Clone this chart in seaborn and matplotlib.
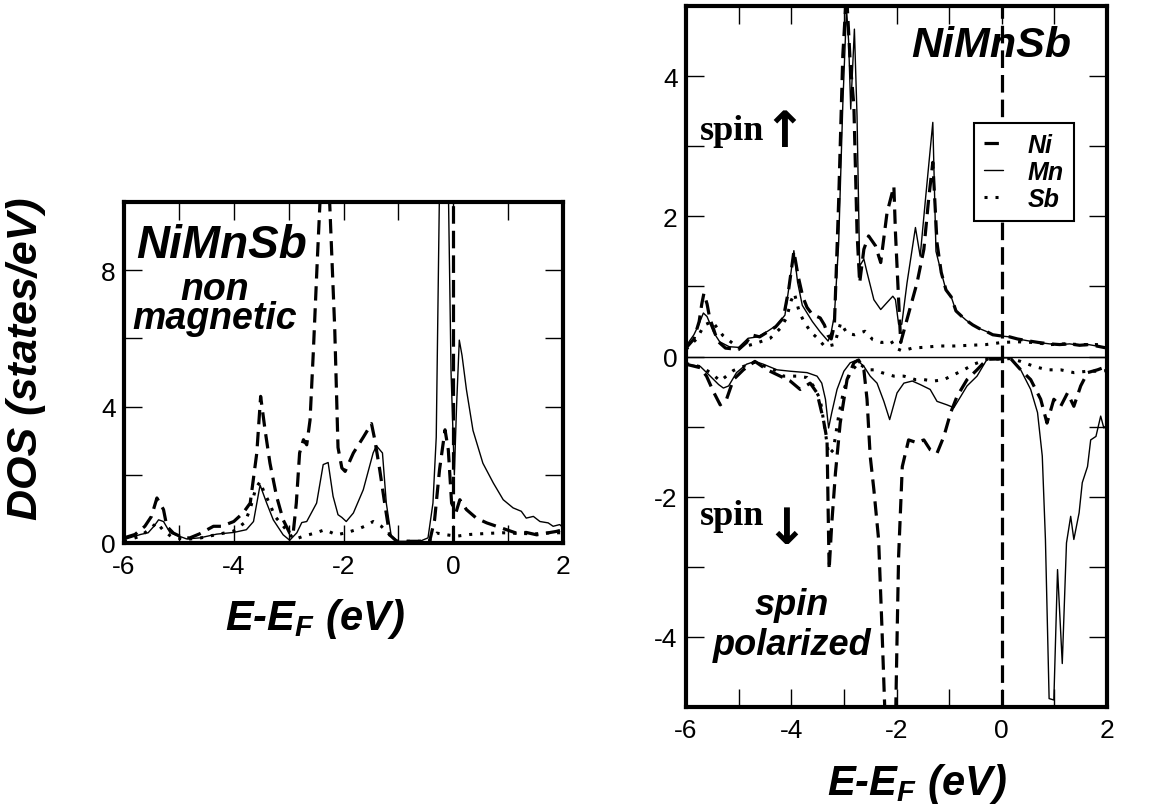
import matplotlib
matplotlib.use('Agg')
import matplotlib.pyplot as plt
import seaborn as sns
import pandas as pd
from matplotlib.ticker import MultipleLocator
from matplotlib.font_manager import FontProperties

# ---------------- data: (E - E_F [eV], DOS [states/eV]) ----------------
# non-magnetic NiMnSb (left panel)
nm_ni = [(-6.0, 0.15), (-5.8, 0.25), (-5.62, 0.49), (-5.5, 0.78), (-5.4, 1.32), (-5.28, 0.98),
         (-5.22, 0.49), (-5.1, 0.29), (-4.92, 0.15), (-4.8, 0.15), (-4.62, 0.27), (-4.37, 0.49),
         (-4.22, 0.49), (-4.0, 0.63), (-3.83, 0.88), (-3.7, 1.17), (-3.58, 2.64), (-3.51, 4.3),
         (-3.43, 3.32), (-3.34, 2.34), (-3.22, 1.37), (-3.1, 0.68), (-2.98, 0.29), (-2.92, 0.24),
         (-2.86, 1.17), (-2.8, 2.64), (-2.73, 3.03), (-2.67, 2.88), (-2.61, 3.6), (-2.55, 5.6),
         (-2.48, 8.2), (-2.42, 10.3), (-2.34, 12.5), (-2.26, 10.3), (-2.16, 6.3), (-2.10, 2.8),
         (-2.03, 2.2), (-1.97, 2.1), (-1.82, 2.64), (-1.64, 3.1), (-1.49, 3.5), (-1.43, 3.03),
         (-1.34, 2.15), (-1.25, 1.17), (-1.16, 0.24), (-1.03, 0.05), (-0.43, 0.05), (-0.34, 0.68),
         (-0.25, 2.15), (-0.15, 3.32), (-0.09, 2.73), (-0.03, 1.17), (0.05, 0.9), (0.12, 1.27),
         (0.24, 0.98), (0.42, 0.73), (0.61, 0.59), (0.79, 0.49), (0.97, 0.39), (1.15, 0.29),
         (1.33, 0.31), (1.52, 0.24), (1.7, 0.29), (1.88, 0.34), (2.0, 0.39)]
nm_mn = [(-6.0, 0.1), (-5.7, 0.25), (-5.56, 0.3), (-5.45, 0.5), (-5.37, 0.68), (-5.28, 0.63),
         (-5.16, 0.3), (-4.86, 0.12), (-4.62, 0.15), (-4.31, 0.26), (-4.0, 0.31), (-3.77, 0.39),
         (-3.64, 0.63), (-3.52, 1.7), (-3.40, 1.17), (-3.28, 0.68), (-3.1, 0.24), (-2.98, 0.08),
         (-2.85, 0.3), (-2.76, 0.6), (-2.67, 0.63), (-2.49, 1.17), (-2.37, 2.3), (-2.28, 2.36),
         (-2.19, 1.37), (-2.1, 0.83), (-2.03, 0.75), (-1.95, 0.63), (-1.82, 0.88), (-1.64, 1.56),
         (-1.46, 2.64), (-1.40, 2.85), (-1.29, 2.64), (-1.22, 1.17), (-1.13, 0.2), (-1.0, 0.05),
         (-0.61, 0.05), (-0.46, 0.15), (-0.37, 1.17), (-0.31, 3.1), (-0.25, 10.5), (-0.17, 14.0),
         (-0.09, 10.5), (-0.04, 5.0), (0.02, 2.0), (0.06, 4.0), (0.11, 5.95), (0.16, 5.5),
         (0.24, 4.5), (0.36, 3.3), (0.54, 2.34), (0.73, 1.76), (0.91, 1.27), (1.09, 1.03),
         (1.24, 0.93), (1.33, 0.73), (1.46, 0.78), (1.58, 0.63), (1.73, 0.59), (1.82, 0.49),
         (1.94, 0.54), (2.0, 0.45)]
nm_sb = [(-6.0, 0.05), (-5.7, 0.2), (-5.5, 0.45), (-5.4, 0.6), (-5.3, 0.4), (-5.15, 0.2),
         (-4.9, 0.1), (-4.6, 0.15), (-4.3, 0.25), (-4.0, 0.35), (-3.8, 0.6), (-3.7, 1.0),
         (-3.6, 1.6), (-3.52, 1.8), (-3.45, 1.5), (-3.35, 1.17), (-3.25, 0.78), (-3.1, 0.5),
         (-3.0, 0.3), (-2.9, 0.1), (-2.73, 0.2), (-2.5, 0.3), (-2.34, 0.39), (-2.13, 0.24),
         (-1.95, 0.3), (-1.75, 0.4), (-1.6, 0.5), (-1.46, 0.63), (-1.31, 0.49), (-1.19, 0.29),
         (-1.05, 0.05), (-0.45, 0.05), (-0.3, 0.29), (-0.12, 0.24), (0.06, 0.2), (0.3, 0.25),
         (0.6, 0.28), (0.9, 0.3), (1.2, 0.28), (1.5, 0.27), (1.8, 0.3), (2.0, 0.3)]

# spin-polarized NiMnSb, spin up (right panel, positive)
up_ni = [(-6.0, 0.12), (-5.85, 0.25), (-5.75, 0.5), (-5.7, 0.75), (-5.66, 0.9), (-5.6, 0.75),
         (-5.55, 0.55), (-5.48, 0.4), (-5.4, 0.22), (-5.25, 0.12), (-5.0, 0.1), (-4.85, 0.2),
         (-4.76, 0.31), (-4.6, 0.28), (-4.45, 0.35), (-4.3, 0.42), (-4.15, 0.55), (-4.05, 0.95),
         (-3.95, 1.5), (-3.87, 1.15), (-3.78, 0.85), (-3.7, 0.7), (-3.6, 0.6), (-3.45, 0.55),
         (-3.37, 0.45), (-3.3, 0.3), (-3.24, 0.25), (-3.18, 0.45), (-3.1, 2.2), (-3.02, 4.3),
         (-2.95, 5.2), (-2.88, 4.2), (-2.81, 3.58), (-2.75, 1.77), (-2.7, 1.05), (-2.62, 1.53),
         (-2.53, 1.72), (-2.4, 1.58), (-2.3, 1.34), (-2.18, 2.05), (-2.05, 2.43), (-2.02, 1.77),
         (-1.96, 0.81), (-1.92, 0.2), (-1.8, 0.53), (-1.61, 1.05), (-1.48, 1.53), (-1.39, 2.24),
         (-1.31, 2.77), (-1.23, 1.62), (-1.15, 1.2), (-1.06, 0.95), (-0.96, 0.85), (-0.87, 0.65),
         (-0.77, 0.58), (-0.68, 0.52), (-0.55, 0.45), (-0.43, 0.4), (-0.3, 0.36), (-0.17, 0.31),
         (0.02, 0.29), (0.15, 0.28), (0.3, 0.25), (0.53, 0.22), (0.7, 0.2), (0.91, 0.18),
         (1.1, 0.17), (1.29, 0.18), (1.48, 0.16), (1.65, 0.17), (1.8, 0.15), (2.0, 0.12)]
up_mn = [(-6.0, 0.15), (-5.85, 0.31), (-5.76, 0.45), (-5.67, 0.62), (-5.6, 0.57), (-5.48, 0.35),
         (-5.36, 0.21), (-5.18, 0.14), (-5.0, 0.13), (-4.82, 0.26), (-4.64, 0.28), (-4.45, 0.36),
         (-4.27, 0.45), (-4.12, 0.59), (-4.03, 1.06), (-3.95, 1.51), (-3.88, 1.06), (-3.79, 0.73),
         (-3.6, 0.5), (-3.45, 0.35), (-3.3, 0.22), (-3.24, 0.35), (-3.18, 0.59), (-3.1, 1.6),
         (-3.02, 3.6), (-2.95, 4.96), (-2.91, 4.5), (-2.87, 3.53), (-2.8, 4.67), (-2.75, 3.43),
         (-2.7, 1.29), (-2.62, 1.39), (-2.56, 1.2), (-2.43, 0.81), (-2.3, 0.67), (-2.18, 0.77),
         (-2.07, 0.86), (-2.02, 0.81), (-1.96, 0.46), (-1.9, 0.46), (-1.8, 1.05), (-1.64, 1.84),
         (-1.55, 1.43), (-1.45, 2.24), (-1.31, 3.34), (-1.25, 1.5), (-1.15, 1.2), (-1.06, 0.95),
         (-0.96, 0.85), (-0.87, 0.65), (-0.77, 0.58), (-0.68, 0.52), (-0.55, 0.45), (-0.43, 0.4),
         (-0.3, 0.36), (-0.17, 0.31), (0.02, 0.29), (0.15, 0.28), (0.3, 0.25), (0.53, 0.22),
         (0.7, 0.2), (0.91, 0.18), (1.1, 0.17), (1.29, 0.18), (1.48, 0.16), (1.65, 0.17),
         (1.8, 0.15), (2.0, 0.12)]
up_sb = [(-6.0, 0.1), (-5.8, 0.25), (-5.65, 0.45), (-5.5, 0.5), (-5.3, 0.3), (-5.0, 0.12),
         (-4.7, 0.18), (-4.4, 0.26), (-4.21, 0.4), (-4.09, 0.55), (-4.0, 0.8), (-3.94, 0.9),
         (-3.85, 0.64), (-3.76, 0.5), (-3.63, 0.35), (-3.5, 0.26), (-3.36, 0.14), (-3.18, 0.17),
         (-3.06, 0.48), (-2.94, 0.33), (-2.8, 0.31), (-2.6, 0.36), (-2.45, 0.24), (-2.28, 0.2),
         (-2.1, 0.22), (-2.02, 0.12), (-1.89, 0.08), (-1.7, 0.12), (-1.5, 0.13), (-1.2, 0.15),
         (-0.9, 0.15), (-0.6, 0.16), (-0.3, 0.17), (0.0, 0.2), (0.3, 0.21), (0.6, 0.2),
         (0.93, 0.17), (1.2, 0.18), (1.5, 0.17), (1.8, 0.17), (2.0, 0.16)]

# spin down (right panel, negative)
dn_ni = [(-6.0, -0.11), (-5.73, -0.16), (-5.61, -0.28), (-5.48, -0.5), (-5.35, -0.69),
         (-5.23, -0.61), (-5.1, -0.33), (-4.91, -0.19), (-4.69, -0.07), (-4.46, -0.19),
         (-4.21, -0.28), (-4.02, -0.35), (-3.83, -0.47), (-3.64, -0.38), (-3.51, -0.52),
         (-3.39, -0.9), (-3.32, -1.19), (-3.3, -2.14), (-3.28, -3.04), (-3.23, -2.38),
         (-3.16, -1.66), (-3.07, -0.95), (-2.94, -0.33), (-2.81, -0.09), (-2.72, -0.05),
         (-2.62, -0.19), (-2.56, -0.61), (-2.5, -1.42), (-2.43, -1.9), (-2.34, -2.61),
         (-2.28, -3.8), (-2.21, -5.3), (-2.12, -5.6), (-2.02, -5.3), (-1.99, -4.04),
         (-1.96, -2.85), (-1.89, -1.57), (-1.77, -1.19), (-1.61, -1.23), (-1.48, -1.19),
         (-1.36, -1.33), (-1.23, -1.38), (-1.1, -1.14), (-0.97, -0.8), (-0.85, -0.57),
         (-0.66, -0.33), (-0.47, -0.19), (-0.28, -0.04), (0.17, -0.03), (0.36, -0.19),
         (0.55, -0.33), (0.74, -0.61), (0.86, -0.95), (0.99, -0.61), (1.12, -0.71),
         (1.25, -0.52), (1.37, -0.71), (1.5, -0.42), (1.63, -0.23), (1.82, -0.19), (2.0, -0.14)]
dn_mn = [(-6.0, -0.11), (-5.73, -0.14), (-5.54, -0.28), (-5.38, -0.4), (-5.29, -0.45),
         (-5.19, -0.42), (-5.04, -0.23), (-4.85, -0.11), (-4.69, -0.07), (-4.53, -0.11),
         (-4.27, -0.19), (-4.02, -0.21), (-3.7, -0.23), (-3.51, -0.28), (-3.42, -0.38),
         (-3.35, -0.61), (-3.29, -1.02), (-3.23, -0.8), (-3.13, -0.47), (-3.0, -0.21),
         (-2.88, -0.09), (-2.75, -0.05), (-2.62, -0.14), (-2.5, -0.28), (-2.37, -0.38),
         (-2.24, -0.64), (-2.13, -0.9), (-1.99, -0.52), (-1.86, -0.38), (-1.7, -0.35),
         (-1.55, -0.4), (-1.36, -0.47), (-1.23, -0.64), (-1.04, -0.69), (-0.91, -0.73),
         (-0.78, -0.57), (-0.66, -0.42), (-0.47, -0.28), (-0.28, -0.04), (-0.15, -0.02),
         (0.17, -0.02), (0.36, -0.19), (0.55, -0.47), (0.68, -0.8), (0.77, -1.42), (0.83, -2.61),
         (0.9, -4.88), (0.99, -4.9), (1.06, -3.04), (1.15, -4.38), (1.23, -2.66), (1.31, -2.28),
         (1.37, -2.61), (1.47, -2.23), (1.53, -1.8), (1.63, -1.57), (1.69, -1.19), (1.79, -1.14),
         (1.88, -0.85), (1.94, -1.02), (2.0, -0.97)]
dn_sb = [(-6.0, -0.1), (-5.7, -0.15), (-5.5, -0.25), (-5.35, -0.35), (-5.1, -0.2), (-4.7, -0.08),
         (-4.3, -0.2), (-4.15, -0.28), (-3.89, -0.28), (-3.7, -0.3), (-3.58, -0.42),
         (-3.45, -0.61), (-3.35, -1.09), (-3.29, -1.4), (-3.2, -1.33), (-3.1, -0.85),
         (-3.0, -0.47), (-2.88, -0.23), (-2.72, -0.09), (-2.56, -0.19), (-2.43, -0.19),
         (-2.28, -0.23), (-2.05, -0.28), (-1.86, -0.28), (-1.64, -0.33), (-1.48, -0.33),
         (-1.29, -0.35), (-1.1, -0.33), (-0.91, -0.26), (-0.72, -0.19), (-0.53, -0.11),
         (-0.28, -0.04), (0.17, -0.03), (0.36, -0.07), (0.61, -0.14), (0.86, -0.19),
         (1.12, -0.19), (1.37, -0.23), (1.63, -0.21), (1.88, -0.21), (2.0, -0.2)]

species = ['Ni', 'Mn', 'Sb']
x_ticks = [-6, -4, -2, 0, 2]

# ---------------- styling ----------------
sns.set_style('white')
plt.rcParams['font.family'] = ['Liberation Sans', 'DejaVu Sans']
plt.rcParams['text.color'] = 'black'
plt.rcParams['axes.unicode_minus'] = False
plt.rcParams['mathtext.fontset'] = 'custom'
plt.rcParams['mathtext.it'] = 'Liberation Sans:italic:bold'
plt.rcParams['mathtext.rm'] = 'Liberation Sans:bold'
plt.rcParams['mathtext.bf'] = 'Liberation Sans:bold'

W, H = 1152, 812
fig = plt.figure(figsize=(W / 100, H / 100), dpi=100)
fig.patch.set_facecolor('white')


def rect(x0, y0, x1, y1):
    return [x0 / W, 1 - y1 / H, (x1 - x0) / W, (y1 - y0) / H]


axL = fig.add_axes(rect(124, 203, 563, 544))
axR = fig.add_axes(rect(686, 7, 1107, 708))

styles = {
    'Ni': dict(color='black', lw=2.3, ls=(0, (4.5, 2.4))),
    'Mn': dict(color='black', lw=1.0, ls='-'),
    'Sb': dict(color='black', lw=2.2, ls=(0, (1, 2.6))),
}


def draw(ax, pairs, name, label=None):
    df = pd.DataFrame(pairs, columns=['E', 'DOS'])
    sns.lineplot(data=df, x='E', y='DOS', ax=ax, estimator=None, sort=False,
                 legend=False, **styles[name])
    line = ax.lines[-1]
    if label:
        line.set_label(label)
    return line


draw(axL, nm_sb, 'Sb')
draw(axL, nm_mn, 'Mn')
draw(axL, nm_ni, 'Ni')

h_sb = draw(axR, up_sb, 'Sb', 'Sb')
h_mn = draw(axR, up_mn, 'Mn', 'Mn')
h_ni = draw(axR, up_ni, 'Ni', 'Ni')
draw(axR, dn_sb, 'Sb')
draw(axR, dn_mn, 'Mn')
draw(axR, dn_ni, 'Ni')

# Fermi level and zero line
for ax in (axL, axR):
    ax.axvline(0, color='black', lw=2.3, ls=(0, (5.5, 2.2)), zorder=1)
axR.axhline(0, color='black', lw=1.0, zorder=1)

for ax in (axL, axR):
    ax.set_xlim(-6, 2)
    ax.xaxis.set_major_locator(MultipleLocator(2))
    ax.xaxis.set_minor_locator(MultipleLocator(1))
    ax.set_xlabel('')
    ax.set_ylabel('')
    ax.tick_params(which='both', direction='in', top=True, right=True, bottom=True, left=True,
                   length=13, width=1.0, labelsize=19, colors='black')
    ax.tick_params(axis='x', which='both', pad=8)
    ax.tick_params(axis='y', which='both', pad=6)
    for sp in ax.spines.values():
        sp.set_linewidth(3.0)
        sp.set_color('black')
        sp.set_visible(True)
    ax.set_facecolor('white')

axL.set_ylim(0, 10)
axL.yaxis.set_major_locator(MultipleLocator(4))
axL.yaxis.set_minor_locator(MultipleLocator(2))
axR.set_ylim(-5, 5)
axR.yaxis.set_major_locator(MultipleLocator(2))
axR.yaxis.set_minor_locator(MultipleLocator(1))
for ax in (axL, axR):
    ax.set_xticks(x_ticks)
    ax.set_xticklabels([str(v) for v in x_ticks])

# legend
leg = axR.legend([h_ni, h_mn, h_sb], species, loc='upper left',
                 bbox_to_anchor=(974 / W, 1 - 124 / H), bbox_transform=fig.transFigure,
                 borderaxespad=0, frameon=True, fancybox=False, framealpha=1, edgecolor='black',
                 prop=FontProperties(family='Liberation Sans', weight='bold', style='italic', size=18),
                 handlelength=0.75, handletextpad=1.0, labelspacing=0.12, borderpad=0.4)
leg.get_frame().set_linewidth(1.5)

# texts
bi = dict(fontweight='bold', style='italic', color='black')
fig.text(222 / W, 1 - 258 / H, 'NiMnSb', ha='center', va='baseline', fontsize=33, **bi)
fig.text(215 / W, 1 - 329 / H, 'non\nmagnetic', ha='center', va='baseline',
         multialignment='center', linespacing=0.74, fontsize=27, **bi)
fig.text(991 / W, 1 - 57 / H, 'NiMnSb', ha='center', va='baseline', fontsize=31, **bi)
serif = ['Liberation Serif', 'DejaVu Serif']
arrowfont = ['DejaVu Sans', 'Liberation Sans']
fig.text(700 / W, 1 - 140 / H, 'spin', ha='left', va='baseline', fontsize=26,
         fontweight='bold', family=serif, color='black')
fig.text(784 / W, 1 - 147 / H, '\u2191', ha='center', va='baseline', fontsize=36,
         fontweight='bold', family=arrowfont, color='black')
fig.text(700 / W, 1 - 525 / H, 'spin', ha='left', va='baseline', fontsize=26,
         fontweight='bold', family=serif, color='black')
fig.text(786 / W, 1 - 544 / H, '\u2193', ha='center', va='baseline', fontsize=36,
         fontweight='bold', family=arrowfont, color='black')
fig.text(792 / W, 1 - 655 / H, 'spin\npolarized', ha='center', va='baseline',
         multialignment='center', linespacing=1.2, fontsize=26, **bi)
fig.text(26 / W, 1 - 359 / H, 'DOS (states/eV)', ha='center', va='center', rotation=90,
         fontsize=31, **bi)
fig.text(225 / W, 1 - 630 / H, 'E-E$_F$ (eV)', ha='left', va='baseline', fontsize=30, **bi)
fig.text(827 / W, 1 - 795 / H, 'E-E$_F$ (eV)', ha='left', va='baseline', fontsize=30, **bi)

fig.savefig('out.png', dpi=100, facecolor='white')
